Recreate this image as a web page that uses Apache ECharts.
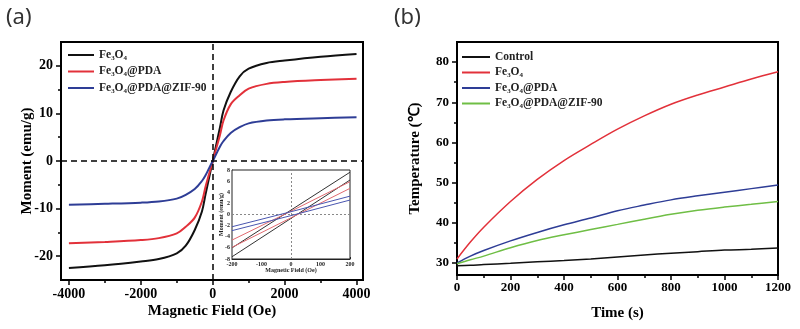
<!DOCTYPE html>
<html>
<head>
<meta charset="utf-8">
<script src="https://cdn.jsdelivr.net/npm/echarts@6/dist/echarts.min.js"></script>
<style>
html, body { margin: 0; padding: 0; background: #fff; }
#chart { width: 800px; height: 329px; }
</style>
</head>
<body>
<div id="chart"></div>
<script>
// (a) magnetization curves
var fieldOe = [-4000, -3000, -2000, -1500, -1000, -750, -500, -300, -200, -100, 0, 100, 200, 300, 500, 750, 1000, 1500, 2000, 3000, 4000];
var momentFe3O4 = [-22.5, -21.9, -21.1, -20.6, -19.4, -17.8, -14.5, -10.6, -7.0, -3.5, 0, 3.5, 7.0, 10.6, 14.5, 17.8, 19.4, 20.6, 21.1, 21.9, 22.5];
var momentPDA = [-17.3, -17.0, -16.6, -16.2, -15.2, -13.8, -11.9, -8.5, -5.4, -2.7, 0, 2.7, 5.4, 8.5, 11.9, 13.8, 15.2, 16.2, 16.6, 17.0, 17.3];
var momentZIF = [-9.2, -9.0, -8.75, -8.5, -7.9, -7.1, -5.9, -4.2, -3.0, -1.5, 0, 1.5, 3.0, 4.2, 5.9, 7.1, 7.9, 8.5, 8.75, 9.0, 9.2];

// (a) inset, low field loops
var insetField = [-200, 0, 200];
var insetFe3O4Up = [-6.0, 0.8, 7.6];
var insetFe3O4Down = [-7.6, -0.7, 6.2];
var insetPDAUp = [-4.6, 0.6, 5.9];
var insetPDADown = [-5.9, -0.6, 4.7];
var insetZIFUp = [-2.2, 0.5, 3.3];
var insetZIFDown = [-2.9, -0.2, 2.6];

// (b) heating curves
var timeS = [0, 50, 100, 200, 300, 400, 500, 600, 700, 800, 900, 1000, 1100, 1200];
var tempControl = [29.3, 29.4, 29.6, 29.9, 30.3, 30.6, 31.0, 31.5, 32.0, 32.4, 32.8, 33.2, 33.4, 33.7];
var tempFe3O4 = [31.0, 35.2, 38.9, 45.3, 50.8, 55.5, 59.5, 63.3, 66.6, 69.5, 71.8, 73.8, 75.8, 77.6];
var tempPDA = [30.0, 31.7, 33.1, 35.5, 37.6, 39.5, 41.2, 43.0, 44.4, 45.7, 46.7, 47.6, 48.5, 49.4];
var tempZIF = [29.8, 30.8, 31.7, 33.8, 35.6, 37.0, 38.3, 39.6, 40.9, 42.1, 43.1, 43.9, 44.6, 45.3];

// ticks
var fieldTicks = [-4000, -2000, 0, 2000, 4000];
var fieldMinor = [-3000, -1000, 1000, 3000];
var momentTicks = [-20, -10, 0, 10, 20];
var momentMinor = [-15, -5, 5, 15];
var tempTicks = [30, 40, 50, 60, 70, 80];
var tempMinor = [35, 45, 55, 65, 75];

var names = ["Fe₃O₄", "Fe₃O₄@PDA", "Fe₃O₄@PDA@ZIF-90"];
var namesB = ["Control", "Fe₃O₄", "Fe₃O₄@PDA", "Fe₃O₄@PDA@ZIF-90"];

var BLACK = "#111111", RED = "#e2313a", BLUE = "#2e3d96", GREEN = "#6fbe45";
var SERIF = "Liberation Serif";

function pairs(xs, ys) {
    return xs.map(function(x, i) { return [x, ys[i]]; });
}
function asTick(v) { return "{t|" + v + "}"; }

// tick labels go through rich text so the serif bold font sticks
function tickLabel(size, margin, custom, color) {
    var l = {
        margin: margin,
        formatter: asTick,
        rich: {
            t: { fontFamily: SERIF, fontWeight: "bold", fontSize: size, color: color || "#000" }
        }
    };
    if (custom) l.customValues = custom;
    return l;
}

var nameFont = { fontFamily: SERIF, fontWeight: "bold", color: "#000", fontSize: 15 };
var inFont = { fontFamily: SERIF, fontWeight: "bold", color: "#222", fontSize: 6 };
var axisLine = { show: true, onZero: false, lineStyle: { color: "#000", width: 2 } };

function curve(name, data, color, width, xi, yi, extra) {
    var s = {
        name: name,
        type: "line",
        xAxisIndex: xi,
        yAxisIndex: yi,
        data: data,
        symbol: "none",
        smooth: 0.35,
        lineStyle: { color: color, width: width },
        itemStyle: { color: color },
        z: 3
    };
    if (extra) {
        for (var k in extra) s[k] = extra[k];
    }
    return s;
}

function legendItem(name, color) {
    return { name: name, itemStyle: { color: color, opacity: 0 }, lineStyle: { color: color } };
}

var chart = echarts.init(document.getElementById("chart"), null, { renderer: "canvas" });

var option = {
    backgroundColor: "#fff",
    animation: false,
    textStyle: { fontFamily: SERIF },
    title: [
        { text: "(a)", left: 1, top: 2, textStyle: { fontFamily: "Noto Sans", fontWeight: "normal", fontSize: 22, color: "#333" } },
        { text: "(b)", left: 389, top: 2, textStyle: { fontFamily: "Noto Sans", fontWeight: "normal", fontSize: 22, color: "#333" } }
    ],
    legend: [{
        orient: "vertical",
        left: 67,
        top: 49,
        padding: 0,
        itemWidth: 26,
        itemHeight: 14,
        itemGap: 4.5,
        textStyle: { fontFamily: SERIF, fontWeight: "bold", fontSize: 11.5, color: "#222" },
        data: [legendItem(names[0], BLACK), legendItem(names[1], RED), legendItem(names[2], BLUE)]
    }, {
        orient: "vertical",
        left: 461,
        top: 51,
        padding: 0,
        itemWidth: 28,
        itemHeight: 14,
        itemGap: 3.5,
        textStyle: { fontFamily: SERIF, fontWeight: "bold", fontSize: 11.5, color: "#222" },
        data: [legendItem(namesB[0], BLACK), legendItem(namesB[1], RED), legendItem(namesB[2], BLUE), legendItem(namesB[3], GREEN)]
    }],
    grid: [
        { left: 61, top: 42, width: 302, height: 238, show: true, borderColor: "#000", borderWidth: 2, backgroundColor: "#fff" },
        { left: 232, top: 170, width: 118, height: 89, show: true, borderColor: "#222", borderWidth: 1, backgroundColor: "#fff", z: 4 },
        { left: 457, top: 42, width: 321, height: 233, show: true, borderColor: "#000", borderWidth: 2, backgroundColor: "#fff" }
    ],
    xAxis: [{
        gridIndex: 0, type: "value", min: -4220, max: 4180,
        name: "Magnetic Field (Oe)", nameLocation: "middle", nameGap: 24, nameMoveOverlap: false, nameTextStyle: nameFont,
        axisLine: axisLine,
        axisTick: { customValues: fieldTicks, length: 5, lineStyle: { width: 1.5, color: "#000" } },
        axisLabel: tickLabel(14, 7, fieldTicks),
        splitLine: { show: false }
    }, {
        gridIndex: 0, type: "value", min: -4220, max: 4180, position: "bottom",
        axisLine: { show: false, onZero: false },
        axisTick: { customValues: fieldMinor, length: 3, lineStyle: { width: 1.5, color: "#000" } },
        axisLabel: { show: false },
        splitLine: { show: false }
    }, {
        gridIndex: 1, type: "value", min: -200, max: 200, interval: 100,
        name: "Magnetic Field (Oe)", nameLocation: "middle", nameGap: 8, nameMoveOverlap: false, nameTextStyle: inFont,
        axisLine: { onZero: false, lineStyle: { color: "#222", width: 1 } },
        axisTick: { inside: true, length: 2, lineStyle: { color: "#222" } },
        axisLabel: tickLabel(6, 2, null, "#222"),
        splitLine: { show: false }
    }, {
        gridIndex: 2, type: "value", min: 0, max: 1200, interval: 200,
        name: "Time (s)", nameLocation: "middle", nameGap: 31, nameMoveOverlap: false, nameTextStyle: nameFont,
        axisLine: axisLine,
        axisTick: { length: 5, lineStyle: { width: 1.5, color: "#000" } },
        minorTick: { show: true, splitNumber: 2, length: 3, lineStyle: { width: 1.5, color: "#000" } },
        axisLabel: tickLabel(13, 6),
        splitLine: { show: false }
    }],
    yAxis: [{
        gridIndex: 0, type: "value", min: -25, max: 25,
        name: "Moment (emu/g)", nameLocation: "middle", nameGap: 26, nameMoveOverlap: false, nameTextStyle: nameFont,
        axisLine: axisLine,
        axisTick: { customValues: momentTicks, length: 5, lineStyle: { width: 1.5, color: "#000" } },
        axisLabel: tickLabel(14, 8, momentTicks),
        splitLine: { show: false }
    }, {
        gridIndex: 0, type: "value", min: -25, max: 25, position: "left",
        axisLine: { show: false, onZero: false },
        axisTick: { customValues: momentMinor, length: 3, lineStyle: { width: 1.5, color: "#000" } },
        axisLabel: { show: false },
        splitLine: { show: false }
    }, {
        gridIndex: 1, type: "value", min: -8, max: 8, interval: 2,
        name: "Moment (emu/g)", nameLocation: "middle", nameGap: 8, nameMoveOverlap: false, nameTextStyle: inFont,
        axisLine: { onZero: false, lineStyle: { color: "#222", width: 1 } },
        axisTick: { inside: true, length: 2, lineStyle: { color: "#222" } },
        axisLabel: tickLabel(6, 2, null, "#222"),
        splitLine: { show: false }
    }, {
        gridIndex: 2, type: "value", min: 27, max: 85,
        name: "Temperature (℃)", nameLocation: "middle", nameGap: 34, nameMoveOverlap: false, nameTextStyle: nameFont,
        axisLine: axisLine,
        axisTick: { customValues: tempTicks, length: 5, lineStyle: { width: 1.5, color: "#000" } },
        axisLabel: tickLabel(13, 8, tempTicks),
        splitLine: { show: false }
    }, {
        gridIndex: 2, type: "value", min: 27, max: 85, position: "left",
        axisLine: { show: false, onZero: false },
        axisTick: { customValues: tempMinor, length: 3, lineStyle: { width: 1.5, color: "#000" } },
        axisLabel: { show: false },
        splitLine: { show: false }
    }],
    series: [
        curve(names[0], pairs(fieldOe, momentFe3O4), BLACK, 2, 0, 0, {
            markLine: {
                silent: true,
                symbol: ["none", "none"],
                label: { show: false },
                lineStyle: { color: "#000", width: 1.5, type: [6, 4] },
                data: [{ xAxis: 0 }, { yAxis: 0 }]
            }
        }),
        curve(names[1], pairs(fieldOe, momentPDA), RED, 2, 0, 0),
        curve(names[2], pairs(fieldOe, momentZIF), BLUE, 2, 0, 0),

        curve("inset1", pairs(insetField, insetFe3O4Up), "#333", 1, 2, 2, {
            smooth: false, z: 6,
            markLine: {
                silent: true,
                symbol: ["none", "none"],
                label: { show: false },
                lineStyle: { color: "#888", width: 1, type: [2, 2] },
                data: [{ xAxis: 0 }, { yAxis: 0 }]
            }
        }),
        curve("inset2", pairs(insetField, insetFe3O4Down), "#333", 1, 2, 2, { smooth: false, z: 6 }),
        curve("inset3", pairs(insetField, insetPDAUp), "#e06a70", 1, 2, 2, { smooth: false, z: 6 }),
        curve("inset4", pairs(insetField, insetPDADown), "#e06a70", 1, 2, 2, { smooth: false, z: 6 }),
        curve("inset5", pairs(insetField, insetZIFUp), "#4a56b0", 1, 2, 2, { smooth: false, z: 6 }),
        curve("inset6", pairs(insetField, insetZIFDown), "#4a56b0", 1, 2, 2, { smooth: false, z: 6 }),

        curve(namesB[0], pairs(timeS, tempControl), BLACK, 1.5, 3, 3),
        curve(namesB[1], pairs(timeS, tempFe3O4), RED, 1.5, 3, 3),
        curve(namesB[2], pairs(timeS, tempPDA), BLUE, 1.5, 3, 3),
        curve(namesB[3], pairs(timeS, tempZIF), GREEN, 1.5, 3, 3)
    ]
};

chart.setOption(option);
</script>
</body>
</html>
